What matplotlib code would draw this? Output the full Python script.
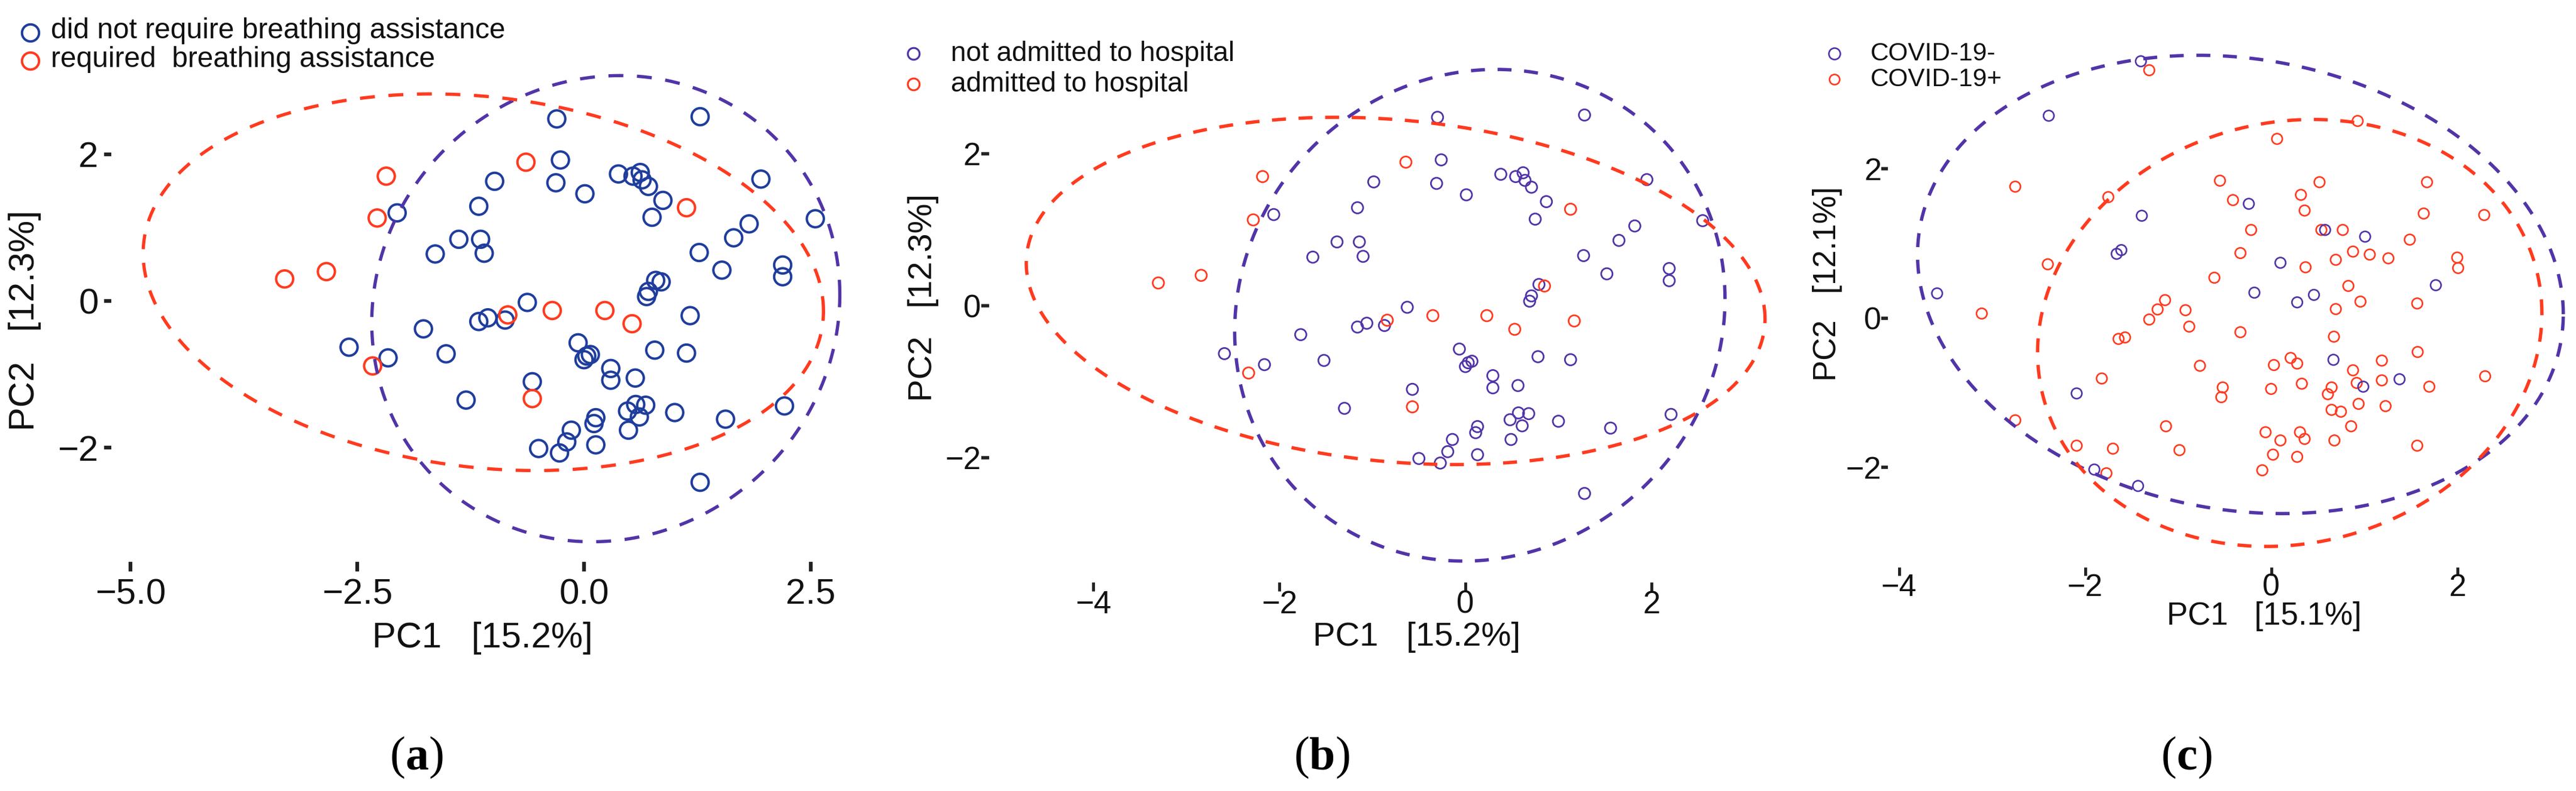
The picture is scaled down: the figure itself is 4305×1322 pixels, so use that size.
import numpy as np
import matplotlib
matplotlib.use("Agg")
import matplotlib.pyplot as plt
from matplotlib.offsetbox import TextArea, HPacker, AnnotationBbox

plt.rcParams['font.family'] = ['Liberation Sans', 'DejaVu Sans']

# ---------------------------------------------------------------- data
# Panels (a) and (b): same PCA scores, two different groupings
pc1_ab = [-2.06, -1.16, -0.985, -1.38, -1.64, -1.14, -1.10, -2.59, -2.16, -1.77,
          -1.52, -1.30, -1.16, -1.06, -0.30, 1.28, -0.26, -0.31, 0.01, 0.38,
          0.54, 0.62, 0.64, 0.71, 0.87, 0.75, 1.95, 2.55, 1.82, 1.65,
          1.27, 1.52, 2.19, 2.19, 0.79, 0.85, 0.71, 0.69, -0.625, -0.87,
          1.17, -0.065, 0.03, 0.07, 0.00, 0.295, 0.295, 0.565, 0.78, 1.13,
          -0.57, 0.48, 0.57, 0.68, 0.61, 0.49, 0.13, 0.11, 0.13, -0.14,
          -0.19, -0.27, -0.50, 1.00, 1.56, 2.21, 1.28,
          -2.18, -2.28, -2.84, -3.30, -2.33, -0.64, 1.13, -0.84, -0.35, 0.23,
          0.53, -0.57]
pc2_ab = [1.20, 1.29, 1.63, 0.84, 0.64, 0.84, 0.65, -0.63, -0.775, -0.38,
          -0.72, -1.35, -0.28, -0.23, 2.48, 2.51, 1.92, 1.61, 1.46, 1.73,
          1.70, 1.75, 1.65, 1.56, 1.37, 1.14, 1.66, 1.12, 1.05, 0.86,
          0.66, 0.42, 0.49, 0.33, 0.28, 0.26, 0.13, 0.06, -0.02, -0.26,
          -0.20, -0.57, -0.75, -0.73, -0.80, -0.92, -1.08, -1.05, -0.67, -0.71,
          -1.10, -1.50, -1.41, -1.42, -1.58, -1.76, -1.59, -1.67, -1.96, -1.76,
          -1.92, -2.07, -2.01, -1.52, -1.61, -1.43, -2.47,
          1.70, 1.13, 0.40, 0.30, -0.885, 1.89, 1.27, -0.19, -0.13, -0.13,
          -0.31, -1.33]
# 0 = did not require breathing assistance, 1 = required
breathing = [0, 0, 0, 0, 0, 0, 0, 0, 0, 0,
             0, 0, 0, 0, 0, 0, 0, 0, 0, 0,
             0, 0, 0, 0, 0, 0, 0, 0, 0, 0,
             0, 0, 0, 0, 0, 0, 0, 0, 0, 0,
             0, 0, 0, 0, 0, 0, 0, 0, 0, 0,
             0, 0, 0, 0, 0, 0, 0, 0, 0, 0,
             0, 0, 0, 0, 0, 0, 0,
             1, 1, 1, 1, 1, 1, 1, 1, 1, 1,
             1, 1]
# 0 = not admitted to hospital, 1 = admitted
hospital = [0, 0, 0, 0, 0, 0, 0, 0, 0, 0,
            0, 0, 0, 0, 0, 0, 0, 0, 0, 0,
            0, 0, 0, 0, 0, 0, 0, 0, 0, 0,
            0, 0, 0, 0, 0, 1, 0, 0, 0, 0,
            1, 0, 0, 0, 0, 0, 0, 0, 0, 0,
            0, 0, 0, 0, 0, 0, 0, 0, 0, 0,
            0, 0, 0, 0, 0, 0, 0,
            1, 1, 1, 1, 1, 1, 1, 1, 1, 1,
            1, 1]

# Panel (c): COVID-19 negative / positive
pc1_c_neg = [-1.40, -2.39, -1.39, -1.66, -1.61, -3.59, -2.09, -1.90, -1.43, -0.24,
             0.58, 1.01, 0.10, -0.18, 0.28, 0.46, 1.77, 0.67, 0.99, 1.38]
pc2_c_neg = [3.44, 2.71, 1.37, 0.86, 0.91, 0.33, -1.01, -2.03, -2.25, 1.53,
             1.18, 1.09, 0.74, 0.34, 0.21, 0.31, 0.44, -0.56, -0.92, -0.82]
pc1_c_pos = [-1.31, -2.75, -1.75, -0.55, -2.40, -3.11, -0.61, -1.14, -1.22, -1.31,
             -0.92, -0.88, -1.64, -1.57, -0.765, -1.82, -0.52, -0.535, -2.75, -1.13,
             -2.09, -1.70, -0.985, -1.77,
             0.93, 0.064, 0.52, 1.675, 0.32, 0.36, -0.41, 1.64, 2.29, -0.215,
             0.54, 0.77, 1.49, -0.33, 0.695, 0.88, 1.06, 1.26, 2.00, 2.01,
             0.37, 0.83, 0.96, 0.695, 1.57, -0.33, 0.675, 1.575, 2.30, 0.21,
             0.28, 0.03, 1.19, 0.88, 0.92, 1.19, 0.33, 0.00, 0.65, 0.61,
             1.70, 0.94, 1.23, 0.65, 0.75, 0.86, -0.06, 0.10, 0.31, 0.36,
             0.68, 1.57, 0.02, 0.28, -0.095]
pc2_c_pos = [3.32, 1.76, 1.62, 1.84, 0.72, 0.06, 0.54, 0.24, 0.115, -0.02,
             0.105, -0.115, -0.28, -0.26, -0.64, -0.81, -0.93, -1.06, -1.37, -1.45,
             -1.71, -1.75, -1.77, -2.08,
             2.64, 2.40, 1.82, 1.82, 1.65, 1.44, 1.58, 1.40, 1.38, 1.18,
             1.18, 1.18, 1.05, 0.87, 0.78, 0.89, 0.85, 0.80, 0.81, 0.67,
             0.68, 0.43, 0.22, 0.12, 0.195, -0.19, -0.25, -0.455, -0.78, -0.535,
             -0.61, -0.63, -0.57, -0.70, -0.87, -0.835, -0.88, -0.95, -0.93, -1.02,
             -0.92, -1.15, -1.18, -1.23, -1.255, -1.45, -1.53, -1.64, -1.53, -1.62,
             -1.64, -1.71, -1.83, -1.86, -2.04]

# 95% ellipses: centre x, centre y, half-extent x, half-extent y, correlation
ell_a_no = [0.24, -0.105, 2.58, 3.175, 0.06]
ell_a_yes = [-1.11, 0.255, 3.75, 2.565, -0.153]
ell_b_no = [0.155, -0.125, 2.635, 3.235, 0.066]
ell_b_yes = [-0.75, 0.195, 3.97, 2.285, -0.16]
ell_c_neg = [-0.33, 0.45, 3.47, 3.07, -0.13]
ell_c_pos = [0.20, -0.20, 2.71, 2.86, 0.092]

legend_a = ["did not require breathing assistance", "required  breathing assistance"]
legend_b = ["not admitted to hospital", "admitted to hospital"]
legend_c = ["COVID-19-", "COVID-19+"]

xticks_a = [-5.0, -2.5, 0.0, 2.5]
xticks_bc = [-4, -2, 0, 2]
yticks = [-2, 0, 2]

xlabel_a = "PC1   [15.2%]"
ylabel_a = "PC2   [12.3%]"
xlabel_b = "PC1   [15.2%]"
ylabel_b = "PC2   [12.3%]"
xlabel_c = "PC1   [15.1%]"
ylabel_c = "PC2   [12.1%]"
captions = ["a", "b", "c"]

# ---------------------------------------------------------------- style
W, H = 4305, 1322
fig = plt.figure(figsize=(W / 100, H / 100), dpi=100)

BLUE_A = '#1f3d9c'
PURPLE = '#5134a7'
RED = '#ff3a1f'
TICK = '#222222'
TXT = '#111111'


def minus(s):
    return s.replace('-', '\u2212')


def add_panel(ox, sx, oy, sy, xlim, ylim):
    left = ox + xlim[0] * sx
    right = ox + xlim[1] * sx
    top = oy - ylim[1] * sy
    bottom = oy - ylim[0] * sy
    ax = fig.add_axes([left / W, 1 - bottom / H, (right - left) / W, (bottom - top) / H])
    ax.set_xlim(*xlim)
    ax.set_ylim(*ylim)
    ax.patch.set_visible(False)
    for s in ax.spines.values():
        s.set_visible(False)
    return ax


def ellipse(ax, spec, color, lw, dashes):
    cx, cy, hx, hy, r = spec
    t = np.linspace(0, 2 * np.pi, 500)
    x = cx + hx * np.cos(t)
    y = cy + hy * (r * np.cos(t) + np.sqrt(1 - r * r) * np.sin(t))
    ax.plot(x, y, color=color, lw=lw, dashes=dashes, clip_on=False, zorder=5)


def points(ax, x, y, color, s, lw, z):
    ax.scatter(x, y, s=s, facecolors='none', edgecolors=color, linewidths=lw,
               clip_on=False, zorder=z)


pc1_ab_arr = np.array(pc1_ab)
pc2_ab_arr = np.array(pc2_ab)
br = np.array(breathing)
ho = np.array(hospital)

# ---------------- panel (a)
axa = add_panel(976, 151.6, 503, 122.7, (-5.21, 3.0), (-3.553, 3.6))
points(axa, pc1_ab_arr[br == 0], pc2_ab_arr[br == 0], BLUE_A, 420, 2.9, 3)
points(axa, pc1_ab_arr[br == 1], pc2_ab_arr[br == 1], RED, 420, 2.9, 4)
ellipse(axa, ell_a_no, PURPLE, 3.9, (4.6, 4.2))
ellipse(axa, ell_a_yes, RED, 3.9, (4.6, 4.2))
axa.set_xticks(xticks_a)
axa.set_xticklabels([minus(f"{v:.1f}") for v in xticks_a])
axa.set_yticks(yticks)
axa.set_yticklabels([minus(f"{v:d}") for v in yticks])
axa.tick_params(axis='x', length=11.5, width=4.5, color=TICK, pad=8.5,
                labelsize=43, labelcolor=TXT)
axa.tick_params(axis='y', length=9, width=4.5, color=TICK, pad=6.5,
                labelsize=43, labelcolor=TXT)

# ---------------- panel (b)
axb = add_panel(2449, 155.5, 511, 127, (-5.12, 3.35), (-3.638, 3.7))
points(axb, pc1_ab_arr[ho == 0], pc2_ab_arr[ho == 0], PURPLE, 185, 2.0, 3)
points(axb, pc1_ab_arr[ho == 1], pc2_ab_arr[ho == 1], RED, 185, 2.0, 4)
ellipse(axb, ell_b_no, PURPLE, 4.0, (4.2, 3.8))
ellipse(axb, ell_b_yes, RED, 4.0, (4.2, 3.8))
axb.set_xticks(xticks_bc)
axb.set_xticklabels([minus(f"{v:d}") for v in xticks_bc])
axb.set_yticks(yticks)
axb.set_yticklabels([minus(f"{v:d}") for v in yticks])
axb.tick_params(axis='x', length=11, width=3.5, color=TICK, pad=-2,
                labelsize=38, labelcolor=TXT)
axb.tick_params(axis='y', length=9.5, width=4, color=TICK, pad=0.5,
                labelsize=38, labelcolor=TXT)

# ---------------- panel (c)
axc = add_panel(3795.5, 155.5, 531.5, 124.75, (-4.119, 3.277), (-3.339, 3.9))
points(axc, pc1_c_pos, pc2_c_pos, RED, 160, 1.9, 3)
points(axc, pc1_c_neg, pc2_c_neg, PURPLE, 160, 1.9, 4)
ellipse(axc, ell_c_neg, PURPLE, 4.0, (4.2, 3.8))
ellipse(axc, ell_c_pos, RED, 4.0, (4.2, 3.8))
axc.set_xticks(xticks_bc)
axc.set_xticklabels([minus(f"{v:d}") for v in xticks_bc])
axc.set_yticks(yticks)
axc.set_yticklabels([minus(f"{v:d}") for v in yticks])
axc.tick_params(axis='x', length=10, width=3.5, color=TICK, pad=-3,
                labelsize=37.5, labelcolor=TXT)
axc.tick_params(axis='y', length=8, width=4, color=TICK, pad=0,
                labelsize=37.5, labelcolor=TXT)

# ---------------- overlay in pixel coordinates (labels, legends, captions)
ov = fig.add_axes([0, 0, 1, 1], zorder=-1)
ov.set_xlim(0, W)
ov.set_ylim(H, 0)
ov.axis('off')

# axis titles
ov.text(806, 1066, xlabel_a, ha='center', va='center', fontsize=43, color=TXT)
ov.text(42, 536, ylabel_a, ha='center', va='center', rotation=90, fontsize=43, color=TXT)
ov.text(2368, 1065, xlabel_b, ha='center', va='center', fontsize=40.5, color=TXT)
ov.text(1543, 497, ylabel_b, ha='center', va='center', rotation=90, fontsize=40.5, color=TXT)
ov.text(3784, 1030, xlabel_c, ha='center', va='center', fontsize=38, color=TXT)
ov.text(3054, 474, ylabel_c, ha='center', va='center', rotation=90, fontsize=38, color=TXT)

# legends
leg_a_y = [52, 99]
for lab, col, yy in zip(legend_a, [BLUE_A, RED], leg_a_y):
    ov.scatter([51], [yy + 3], s=420, facecolors='none', edgecolors=col, linewidths=2.9)
    ov.text(85, yy, lab, ha='left', va='center', fontsize=34.5, color=TXT)

leg_b_y = [90, 141]
for lab, col, yy in zip(legend_b, [PURPLE, RED], leg_b_y):
    ov.scatter([1527], [yy], s=200, facecolors='none', edgecolors=col, linewidths=2.3)
    ov.text(1589, yy, lab, ha='left', va='center', fontsize=33, color=TXT)

leg_c_y = [90, 133]
for lab, col, yy, ms in zip(legend_c, [PURPLE, RED], leg_c_y, [190, 150]):
    ov.scatter([3066], [yy], s=ms, facecolors='none', edgecolors=col, linewidths=1.9)
    ov.text(3126, yy, lab, ha='left', va='center', fontsize=30.5, color=TXT)

# captions (a) (b) (c)
for letter, xx in zip(captions, [697, 2210, 3655]):
    fp = dict(family='Liberation Serif', fontsize=56, color='black')
    fb = dict(family='Liberation Serif', fontsize=56, color='black', fontweight='bold')
    box = HPacker(children=[TextArea('(', textprops=fp), TextArea(letter, textprops=fb),
                            TextArea(')', textprops=fp)], align='baseline', pad=0, sep=0)
    ab = AnnotationBbox(box, (xx, 1267), xycoords='data', frameon=False,
                        box_alignment=(0.5, 0.5), annotation_clip=False)
    ov.add_artist(ab)

fig.savefig('out.png', dpi=100, facecolor='white')
